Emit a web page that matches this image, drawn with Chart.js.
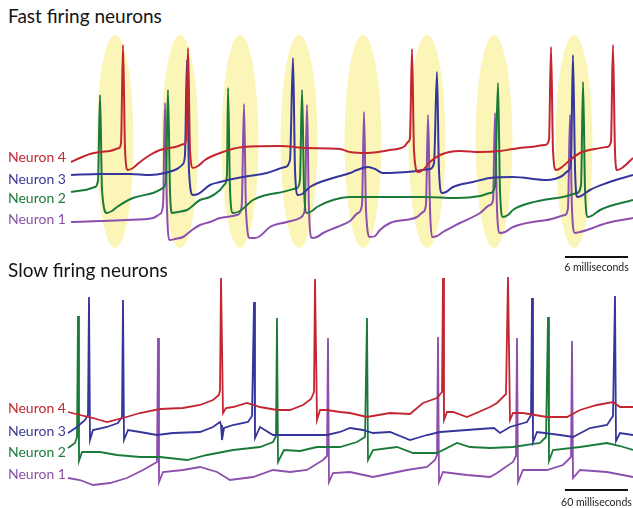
<!DOCTYPE html>
<html><head><meta charset="utf-8">
<script src="https://cdn.jsdelivr.net/npm/chart.js@4.4.1/dist/chart.umd.min.js"></script>
<style>
body{margin:0;background:#fff;}
#wrap{position:relative;width:633px;height:508px;overflow:hidden;font-family:Lato,"Open Sans",sans-serif;background:#fff;}
.t{position:absolute;left:8px;font-size:19px;line-height:19px;color:#141414;white-space:nowrap}
.l{position:absolute;left:8px;font-size:14px;line-height:14px;white-space:nowrap}
canvas{position:absolute}
</style></head><body>
<div id="wrap">
<canvas id="fast" width="573" height="245" style="left:60px;top:30px"></canvas>
<canvas id="slow" width="573" height="238" style="left:60px;top:270px"></canvas>
<div class="t" style="top:6px">Fast firing neurons</div>
<div class="t" style="top:260px">Slow firing neurons</div>
<div class="l" style="top:150px;color:#bf2a34">Neuron 4</div>
<div class="l" style="top:172px;color:#3b3b96">Neuron 3</div>
<div class="l" style="top:191px;color:#1f7a3c">Neuron 2</div>
<div class="l" style="top:212px;color:#8a52a6">Neuron 1</div>
<div class="l" style="top:401px;color:#bf2a34">Neuron 4</div>
<div class="l" style="top:424px;color:#3b3b96">Neuron 3</div>
<div class="l" style="top:445px;color:#1f7a3c">Neuron 2</div>
<div class="l" style="top:467px;color:#8a52a6">Neuron 1</div>
</div>
<script>
// ---------- DATA (time in ms, membrane potential in mV) ----------
const neuronNames = ["Neuron 4", "Neuron 3", "Neuron 2", "Neuron 1"];

// Fast firing neurons
const fastN4 = [[0.10,-77],[0.95,-73],[1.90,-69],[2.86,-67],[3.81,-66],[4.67,-63],[4.86,-58],[5.05,40],[5.24,-65],[5.52,-85],[6.00,-83],[6.67,-77],[7.62,-70],[8.57,-65],[10.00,-62],[10.86,-59],[11.05,-55],[11.24,37],[11.43,-65],[11.71,-83],[12.19,-81],[12.86,-75],[14.29,-68],[16.48,-62],[20.00,-61],[22.57,-63],[25.71,-64],[26.67,-67],[28.29,-68],[30.48,-65],[31.90,-61],[32.19,-57],[32.38,-53],[32.57,36],[32.76,-65],[33.14,-87],[33.62,-85],[34.29,-77],[35.24,-70],[37.14,-66],[39.05,-67],[40.95,-66],[42.19,-64],[43.81,-62],[45.24,-60],[45.62,-55],[45.81,38],[46.00,-65],[46.29,-85],[46.86,-82],[47.62,-75],[48.57,-68],[50.00,-64],[51.14,-62],[51.52,-57],[51.71,40],[51.90,-65],[52.10,-85],[52.57,-83],[53.62,-73]];
const fastN3 = [[0.10,-65],[2.86,-64],[5.71,-64],[7.62,-65],[9.05,-63],[10.19,-59],[10.76,-54],[10.95,-45],[11.14,50],[11.33,-60],[11.71,-85],[12.19,-84],[13.33,-75],[14.29,-72],[16.48,-67],[18.76,-63],[20.48,-57],[20.95,-50],[21.24,52],[21.43,-60],[21.71,-85],[22.10,-84],[22.86,-77],[25.05,-68],[26.67,-63],[27.33,-60],[28.38,-57],[29.05,-59],[29.81,-63],[32.10,-62],[34.29,-59],[34.67,-53],[34.95,38],[35.14,-60],[35.43,-83],[35.81,-82],[36.48,-77],[38.38,-72],[40.00,-68],[42.19,-67],[45.43,-70],[46.86,-66],[47.43,-61],[47.71,-53],[47.90,55],[48.10,-60],[48.29,-87],[48.67,-86],[49.52,-80],[51.14,-73],[53.62,-65]];
const fastN2 = [[0.10,-62],[1.43,-60],[2.38,-57],[2.67,-50],[2.86,35],[3.05,-60],[3.52,-83],[4.00,-81],[4.48,-77],[6.00,-68],[7.90,-63],[8.86,-58],[9.14,-50],[9.33,40],[9.52,-60],[9.71,-83],[10.29,-82],[11.14,-80],[12.38,-70],[13.33,-67],[14.29,-60],[14.76,-54],[14.95,-45],[15.05,42],[15.24,-60],[15.52,-83],[16.19,-81],[17.43,-70],[19.71,-63],[21.62,-58],[21.90,-50],[22.10,40],[22.29,-60],[22.57,-83],[23.05,-81],[23.52,-77],[25.05,-70],[26.67,-67],[30.48,-67],[33.62,-67],[36.86,-68],[39.05,-66],[40.00,-63],[40.48,-56],[40.76,47],[40.95,-60],[41.24,-87],[41.71,-85],[42.19,-80],[43.81,-73],[46.95,-67],[48.29,-63],[48.67,-55],[48.86,48],[49.05,-60],[49.33,-87],[49.81,-85],[50.48,-80],[53.62,-70]];
const fastN1 = [[0.10,-67],[2.86,-66],[5.43,-65],[7.90,-63],[8.57,-59],[8.86,-50],[9.05,52],[9.24,-55],[9.52,-85],[10.00,-84],[10.76,-82],[11.62,-75],[12.38,-70],[13.33,-67],[14.29,-63],[15.90,-60],[16.29,-55],[16.38,-45],[16.57,51],[16.76,-55],[17.14,-83],[17.62,-83],[18.10,-81],[19.05,-72],[20.67,-67],[21.90,-63],[22.29,-58],[22.38,-50],[22.57,50],[22.76,-55],[23.05,-83],[23.52,-82],[24.10,-78],[25.43,-72],[26.67,-66],[27.43,-58],[27.81,-50],[28.00,43],[28.19,-55],[28.57,-82],[29.05,-81],[29.52,-75],[30.48,-68],[33.05,-62],[33.62,-57],[33.90,-50],[34.10,40],[34.29,-55],[34.48,-82],[34.95,-81],[35.52,-77],[37.14,-68],[39.05,-58],[40.00,-50],[40.29,-45],[40.48,42],[40.67,-55],[40.95,-78],[41.43,-77],[42.19,-72],[45.43,-65],[47.14,-60],[47.43,-53],[47.62,40],[47.81,-55],[48.10,-78],[48.57,-77],[49.24,-75],[51.14,-68],[53.62,-63]];
// centres (ms) of the highlighted synchronous-firing windows
const syncWindows = [4.29, 10.48, 16.19, 21.81, 27.90, 34.00, 40.38, 48.00];

// Slow firing neurons
const slowN4 = [[-1.90,-72],[9.52,-75],[21.90,-78],[35.24,-82],[50.48,-78],[66.67,-73],[85.71,-69],[107.62,-68],[123.81,-65],[136.19,-60],[141.90,-55],[142.86,-50],[143.81,62],[145.71,-73],[148.57,-68],[155.24,-67],[168.57,-63],[180.95,-67],[197.14,-70],[209.52,-70],[221.90,-65],[229.52,-59],[232.38,-52],[233.33,61],[235.24,-80],[238.10,-70],[244.76,-70],[257.14,-72],[266.67,-73],[282.86,-77],[304.76,-73],[323.81,-74],[336.19,-63],[349.52,-58],[354.29,-52],[355.24,62],[356.19,-80],[359.05,-72],[364.76,-72],[378.10,-77],[400.00,-67],[406.67,-63],[415.24,-54],[417.14,63],[419.05,-80],[421.90,-73],[431.43,-73],[454.29,-77],[473.33,-77],[485.71,-70],[501.90,-65],[517.14,-62],[523.81,-67],[536.19,-67]];
const slowN3 = [[-1.90,-71],[6.67,-65],[14.29,-58],[17.14,-53],[18.10,65],[19.05,-78],[21.90,-68],[35.24,-65],[45.71,-61],[49.52,-55],[50.48,62],[51.43,-78],[55.24,-68],[66.67,-70],[82.86,-73],[98.10,-71],[123.81,-70],[136.19,-65],[142.86,-60],[143.81,-63],[144.76,-78],[146.67,-66],[155.24,-63],[169.52,-60],[173.33,-54],[175.24,60],[176.19,-76],[180.95,-65],[193.33,-73],[219.05,-73],[244.76,-73],[257.14,-70],[266.67,-66],[279.05,-68],[288.57,-71],[304.76,-70],[323.81,-78],[340.00,-73],[352.38,-70],[390.48,-67],[403.81,-66],[409.52,-71],[419.05,-65],[435.24,-60],[439.05,-53],[440.00,64],[440.95,-80],[444.76,-70],[466.67,-73],[479.05,-75],[495.24,-66],[511.43,-63],[517.14,-54],[519.05,66],[520.00,-79],[523.81,-71],[536.19,-73]];
const slowN2 = [[-1.90,-68],[4.76,-63],[6.67,-57],[7.62,64],[8.57,-81],[11.43,-72],[28.57,-72],[44.76,-75],[66.67,-77],[85.71,-77],[111.43,-80],[130.48,-75],[155.24,-70],[180.95,-67],[193.33,-62],[196.19,-56],[197.14,62],[198.10,-82],[203.81,-70],[219.05,-71],[235.24,-67],[257.14,-67],[273.33,-62],[280.95,-57],[282.86,62],[283.81,-80],[288.57,-70],[311.43,-67],[326.67,-73],[349.52,-73],[368.57,-63],[380.95,-67],[400.00,-68],[421.90,-67],[447.62,-63],[453.33,-57],[455.24,63],[456.19,-81],[460.00,-70],[485.71,-67],[511.43,-63],[523.81,-66],[536.19,-70]];
const slowN1 = [[-1.90,-76],[9.52,-78],[21.90,-83],[38.10,-81],[54.29,-76],[69.52,-68],[82.86,-60],[83.81,64],[84.76,-80],[88.57,-70],[107.62,-68],[123.81,-65],[140.00,-70],[152.38,-78],[174.29,-75],[193.33,-68],[209.52,-70],[225.71,-68],[240.95,-58],[244.76,-54],[245.71,64],[246.67,-80],[250.48,-71],[266.67,-70],[288.57,-75],[320.95,-68],[340.00,-65],[347.62,-58],[349.52,-53],[350.48,65],[351.43,-80],[355.24,-70],[378.10,-73],[400.00,-75],[406.67,-71],[421.90,-60],[424.76,-54],[425.71,64],[426.67,-80],[431.43,-68],[454.29,-68],[469.52,-63],[477.14,-55],[478.10,61],[479.05,-76],[485.71,-68],[511.43,-70],[536.19,-75]];

const fastScaleBar = 6;   // ms
const slowScaleBar = 60;  // ms

// ---------- STYLE / LAYOUT ----------
const colors = ["#c42631", "#35359c", "#1b7a3a", "#8c4fae"];

function toXY(arr){ return arr.map(p => ({x:p[0], y:p[1]})); }

function makeScales(xmin, xmax, ranges){
  const s = { x:{type:'linear', display:false, min:xmin, max:xmax} };
  ranges.forEach((r,i)=>{ s['y'+i] = {type:'linear', display:false, min:r[0], max:r[1]}; });
  return s;
}

const ellipsePlugin = {
  id:'syncEllipses',
  beforeDatasetsDraw(chart, args, opts){
    if(!opts.centers) return;
    const ctx = chart.ctx, xs = chart.scales.x, ca = chart.chartArea;
    ctx.save();
    ctx.fillStyle = opts.color;
    opts.centers.forEach(c=>{
      const x0 = xs.getPixelForValue(c - opts.halfWidth), x1 = xs.getPixelForValue(c + opts.halfWidth);
      const cx = (x0+x1)/2, rx = (x1-x0)/2;
      const top = ca.top + opts.top, bot = ca.top + opts.bottom;
      ctx.beginPath();
      ctx.ellipse(cx, (top+bot)/2, rx, (bot-top)/2, 0, 0, Math.PI*2);
      ctx.fill();
    });
    ctx.restore();
  }
};

const scaleBarPlugin = {
  id:'scaleBar',
  afterDraw(chart, args, opts){
    if(!opts.length) return;
    const ctx = chart.ctx, xs = chart.scales.x, ca = chart.chartArea;
    const x1 = xs.getPixelForValue(opts.end), x0 = xs.getPixelForValue(opts.end - opts.length);
    const y = ca.top + opts.y;
    ctx.save();
    ctx.strokeStyle = '#111'; ctx.lineWidth = 2;
    ctx.beginPath(); ctx.moveTo(x0, y); ctx.lineTo(x1, y); ctx.stroke();
    ctx.fillStyle = '#222';
    ctx.font = '10.5px Lato, "Open Sans", sans-serif';
    ctx.textAlign = 'center'; ctx.textBaseline = 'middle';
    ctx.fillText(opts.label, (x0+x1)/2, y + opts.textGap);
    ctx.restore();
  }
};

function build(id, series, xmin, xmax, ranges, lw, smooth, plugOpts){
  new Chart(document.getElementById(id), {
    type:'line',
    data:{ datasets: series.map((s,i)=>({
      label: neuronNames[i], data: toXY(s), yAxisID:'y'+i,
      borderColor: colors[i], borderWidth: lw, pointRadius:0,
      cubicInterpolationMode: smooth ? 'monotone' : 'default', tension: 0,
      fill:false, clip:false
    }))},
    options:{
      responsive:false, animation:false, events:[],
      layout:{padding:0},
      parsing:false, normalized:true,
      scales: makeScales(xmin, xmax, ranges),
      plugins: Object.assign({legend:{display:false}, tooltip:{enabled:false}}, plugOpts)
    },
    plugins:[ellipsePlugin, scaleBarPlugin]
  });
}

build('fast', [fastN4, fastN3, fastN2, fastN1], -0.952, 53.619,
  [[-190,55],[-165,80],[-145,100],[-120,125]], 2, true,
  { syncEllipses:{centers:syncWindows, halfWidth:1.75, top:5, bottom:218, color:'#fcf5b8'},
    scaleBar:{length:fastScaleBar, end:53.14, y:227, textGap:11, label:'6 milliseconds'} });

build('slow', [slowN4, slowN3, slowN2, slowN1], -9.524, 536.19,
  [[-168,70],[-146,92],[-128,110],[-106,132]], 1.8, false,
  { syncEllipses:{}, scaleBar:{length:slowScaleBar, end:531.4, y:220, textGap:13, label:'60 milliseconds'} });
</script>
</body></html>
